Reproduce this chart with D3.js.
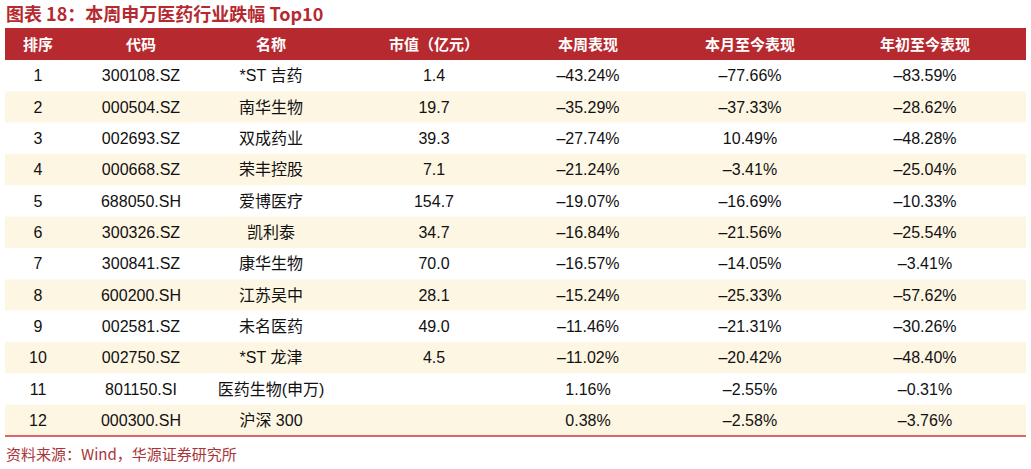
<!DOCTYPE html>
<html><head><meta charset="utf-8">
<script src="https://cdn.jsdelivr.net/npm/d3@7"></script>
<style>body{margin:0;background:#fff}</style>
</head><body><svg id="chart" width="1031" height="469"></svg>
<script>
const headers = ['排序', '代码', '名称', '市值（亿元）', '本周表现', '本月至今表现', '年初至今表现'];
const ranks = ['1','2','3','4','5','6','7','8','9','10','11','12'];
const codes = ['300108.SZ','000504.SZ','002693.SZ','000668.SZ','688050.SH','300326.SZ','300841.SZ','600200.SH','002581.SZ','002750.SZ','801150.SI','000300.SH'];
const names = ['*ST 吉药','南华生物','双成药业','荣丰控股','爱博医疗','凯利泰','康华生物','江苏吴中','未名医药','*ST 龙津','医药生物(申万)','沪深 300'];
const marketCap = ['1.4','19.7','39.3','7.1','154.7','34.7','70.0','28.1','49.0','4.5','',''];
const weekPerf = ['–43.24%','–35.29%','–27.74%','–21.24%','–19.07%','–16.84%','–16.57%','–15.24%','–11.46%','–11.02%','1.16%','0.38%'];
const monthPerf = ['–77.66%','–37.33%','10.49%','–3.41%','–16.69%','–21.56%','–14.05%','–25.33%','–21.31%','–20.42%','–2.55%','–2.58%'];
const ytdPerf = ['–83.59%','–28.62%','–48.28%','–25.04%','–10.33%','–25.54%','–3.41%','–57.62%','–30.26%','–48.40%','–0.31%','–3.76%'];

const columns = [ranks, codes, names, marketCap, weekPerf, monthPerf, ytdPerf];
const colCenters = [38, 141, 271, 434, 588, 750, 925];
const red = '#b5292f';

const svg = d3.select('#chart');
const x = d3.scaleOrdinal().domain(d3.range(headers.length)).range(colCenters);
const y = d3.scaleBand().domain(d3.range(ranks.length)).range([60, 436]);

svg.append('text').attr('x', 6).attr('y', 21)
  .attr('fill', red).attr('font-size', 18).attr('font-weight', 'bold')
  .attr('font-family', 'Noto Sans CJK SC').text('图表 18：本周申万医药行业跌幅 Top10');

svg.append('rect').attr('x', 5).attr('y', 28).attr('width', 1021).attr('height', 32).attr('fill', red);
svg.selectAll('.hd').data(headers).join('text')
  .attr('x', (d, i) => x(i)).attr('y', 45).attr('dy', '0.35em')
  .attr('text-anchor', 'middle').attr('fill', '#fff').attr('font-size', 15).attr('font-weight', 'bold')
  .attr('font-family', 'Noto Sans CJK SC').text(d => d);

svg.selectAll('.band').data(ranks).join('rect')
  .attr('x', 5).attr('width', 1021)
  .attr('y', (d, i) => y(i)).attr('height', y.bandwidth())
  .attr('fill', (d, i) => i % 2 ? '#fdf6e3' : '#fff');

columns.forEach((col, c) => {
  svg.selectAll('.c' + c).data(col).join('text')
    .attr('x', x(c)).attr('y', (d, i) => y(i) + y.bandwidth() / 2).attr('dy', '0.35em')
    .attr('text-anchor', 'middle').attr('fill', '#111').attr('font-size', 16)
    .attr('font-family', 'Liberation Sans, Noto Sans CJK SC').text(d => d);
});

svg.append('line').attr('x1', 5).attr('x2', 1026).attr('y1', 436).attr('y2', 436)
  .attr('stroke', '#d0363c').attr('stroke-width', 1.5);

svg.append('text').attr('x', 6).attr('y', 460)
  .attr('fill', '#a8353a').attr('font-size', 15)
  .attr('font-family', 'Noto Sans CJK SC').text('资料来源：Wind，华源证券研究所');
</script></body></html>
